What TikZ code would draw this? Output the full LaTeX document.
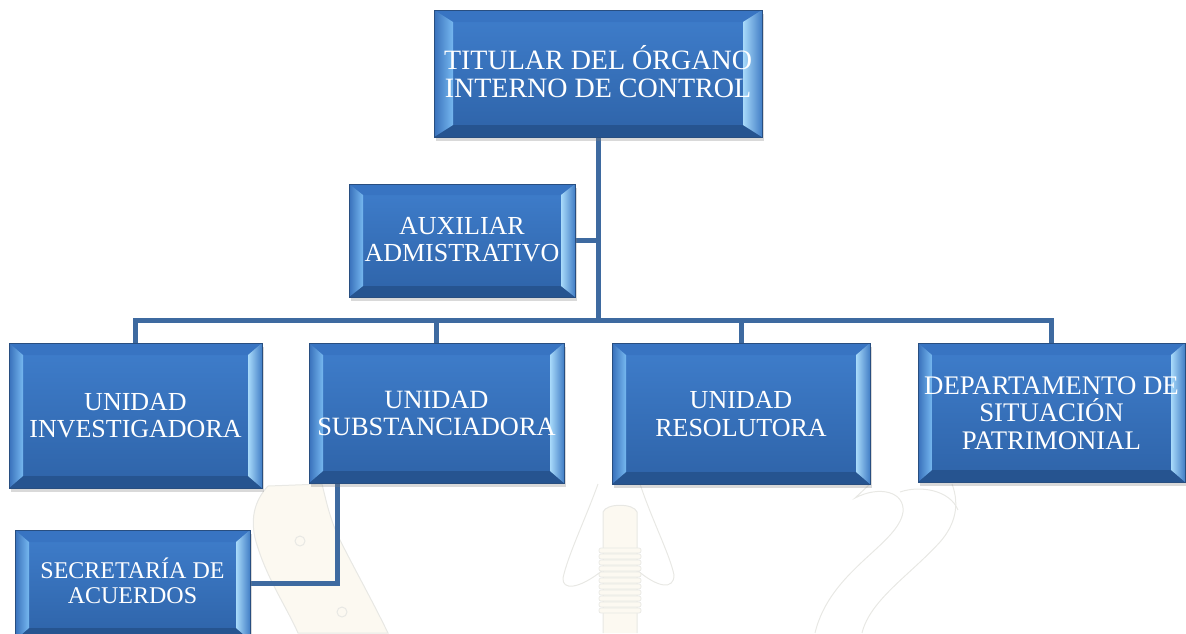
\documentclass[tikz,border=0pt]{standalone}
\usepackage{fontspec}
\setmainfont{Liberation Serif}
\usetikzlibrary{calc,shadows}
\definecolor{faceT}{RGB}{63,126,204}
\definecolor{faceB}{RGB}{46,99,168}
\definecolor{bevTop}{RGB}{56,116,194}
\definecolor{bevBot}{RGB}{38,84,144}
\definecolor{bevLO}{RGB}{56,112,186}
\definecolor{bevLI}{RGB}{118,184,240}
\definecolor{bevRI}{RGB}{168,218,250}
\definecolor{bevRO}{RGB}{66,126,198}
\definecolor{edge}{RGB}{40,78,128}
\definecolor{connc}{RGB}{62,106,160}
\definecolor{wmfill}{RGB}{252,249,241}
\definecolor{wmline}{RGB}{232,232,228}
\pgfdeclarelayer{bg}
\pgfsetlayers{bg,main}
\tikzset{
  face/.style={rectangle, inner sep=0pt, outer sep=0pt, draw=edge, line width=0.7pt,
    top color=faceT, bottom color=faceB,
    drop shadow={opacity=0.3, shadow xshift=1.5pt, shadow yshift=-3.5pt}},
  utext/.style={text=white, align=center, inner sep=0pt},
  conn/.style={draw=connc, line width=5pt, line join=miter},
  wm/.style={draw=wmline, line width=1pt, fill=wmfill},
  wmo/.style={draw=wmline, line width=1pt}
}
% #1 name, #2 x1, #3 y1, #4 x2, #5 y2, #6 bevel dx, #7 bevel dy
\newcommand\ubox[7]{%
  \node[face, minimum width={#4pt-#2pt}, minimum height={#5pt-#3pt}] (#1) at ({(#2+#4)/2},{(#3+#5)/2}) {};
  \fill[bevTop] (#1.north west) -- (#1.north east) -- ($(#1.north east)+(-#6,#7)$) -- ($(#1.north west)+(#6,#7)$) -- cycle;
  \fill[bevBot] (#1.south west) -- (#1.south east) -- ($(#1.south east)+(-#6,-#7)$) -- ($(#1.south west)+(#6,-#7)$) -- cycle;
  \shade[left color=bevLO, right color=bevLI] (#1.north west) -- ($(#1.north west)+(#6,#7)$) -- ($(#1.south west)+(#6,-#7)$) -- (#1.south west) -- cycle;
  \shade[left color=bevRI, right color=bevRO] (#1.north east) -- ($(#1.north east)+(-#6,#7)$) -- ($(#1.south east)+(-#6,-#7)$) -- (#1.south east) -- cycle;
  \draw[edge, line width=0.7pt] (#1.north west) rectangle (#1.south east);
}
\begin{document}
\begin{tikzpicture}[x=1pt,y=-1pt]
\useasboundingbox (0,0) rectangle (1186,633);
% boxes
\ubox{tit}{434}{10}{762}{137}{19}{12}
\node[utext, font=\fontsize{28}{28}\selectfont] (titt) at (598,72) {TITULAR DEL ÓRGANO\\INTERNO DE CONTROL};
\ubox{aux}{349}{184}{575}{297}{14}{11}
\node[utext, font=\fontsize{26}{27}\selectfont] (auxt) at (462,240) {AUXILIAR\\ADMISTRATIVO};
\ubox{inv}{9}{343}{262}{488}{14}{12}
\node[utext, font=\fontsize{26}{27}\selectfont] (invt) at (135.5,416) {UNIDAD\\INVESTIGADORA};
\ubox{sub}{309}{343}{564}{483}{14}{12}
\node[utext, font=\fontsize{26.4}{27}\selectfont] (subt) at (436.5,413) {UNIDAD\\SUBSTANCIADORA};
\ubox{res}{612}{343}{870}{484}{14}{12}
\node[utext, font=\fontsize{26}{27.5}\selectfont] (rest) at (741,414) {UNIDAD\\RESOLUTORA};
\ubox{dep}{918}{343}{1185}{482}{14}{12}
\node[utext, font=\fontsize{26.8}{27.5}\selectfont] (dept) at (1051.5,413) {DEPARTAMENTO DE\\SITUACIÓN\\PATRIMONIAL};
\ubox{sec}{15}{530}{250}{640}{14}{12}
\node[utext, font=\fontsize{24}{25}\selectfont] (sect) at (132.5,581) {SECRETARÍA DE\\ACUERDOS};
\begin{pgfonlayer}{bg}
  % faint watermark
  \draw[wm] (268,486) .. controls (255,500) and (248,520) .. (258,548)
     .. controls (268,580) and (288,610) .. (298,633) -- (388,633)
     .. controls (372,600) and (355,570) .. (340,540)
     .. controls (330,520) and (326,500) .. (322,484) -- cycle;
  \draw[wmo] (300,541) circle (5);
  \draw[wmo] (342,612) circle (5);
  \draw[wmo] (598,484) .. controls (585,520) and (568,555) .. (563,578)
     .. controls (562,590) and (578,590) .. (603,570);
  \draw[wmo] (640,484) .. controls (652,520) and (670,555) .. (674,575)
     .. controls (674,590) and (658,588) .. (637,570);
  \draw[wm] (603,633) -- (603,512) .. controls (606,503) and (634,503) .. (637,512) -- (637,633);
  \foreach \yy in {548,554,...,608}
    \draw[wmo, line width=0.7pt, fill=wmfill, rounded corners=2pt] (599,\yy) rectangle (641,\yy+5);
  \draw[wmo] (870,484) -- (855,498) .. controls (880,485) and (905,492) .. (903,512)
     .. controls (898,545) and (830,570) .. (815,633);
  \draw[wmo] (952,484) .. controls (960,505) and (955,525) .. (940,542)
     .. controls (910,575) and (870,600) .. (862,633);
  \draw[wmo] (900,492) .. controls (920,485) and (950,490) .. (958,510);
  % connectors
  \coordinate (bus) at (598,320);
  \coordinate (sj) at (337,583);
  \draw[conn] (tit.south) -- (tit.south |- bus);
  \draw[conn] (aux.east) -- (aux.east -| tit.south);
  \draw[conn] (inv.north) -- (inv.north |- bus) -- (dep.north |- bus) -- (dep.north);
  \draw[conn] (sub.north |- bus) -- (sub.north);
  \draw[conn] (res.north |- bus) -- (res.north);
  \draw[conn] (sub.south -| sj) -- (sj) -- (sj -| sec.east);
\end{pgfonlayer}
\end{tikzpicture}
\end{document}
